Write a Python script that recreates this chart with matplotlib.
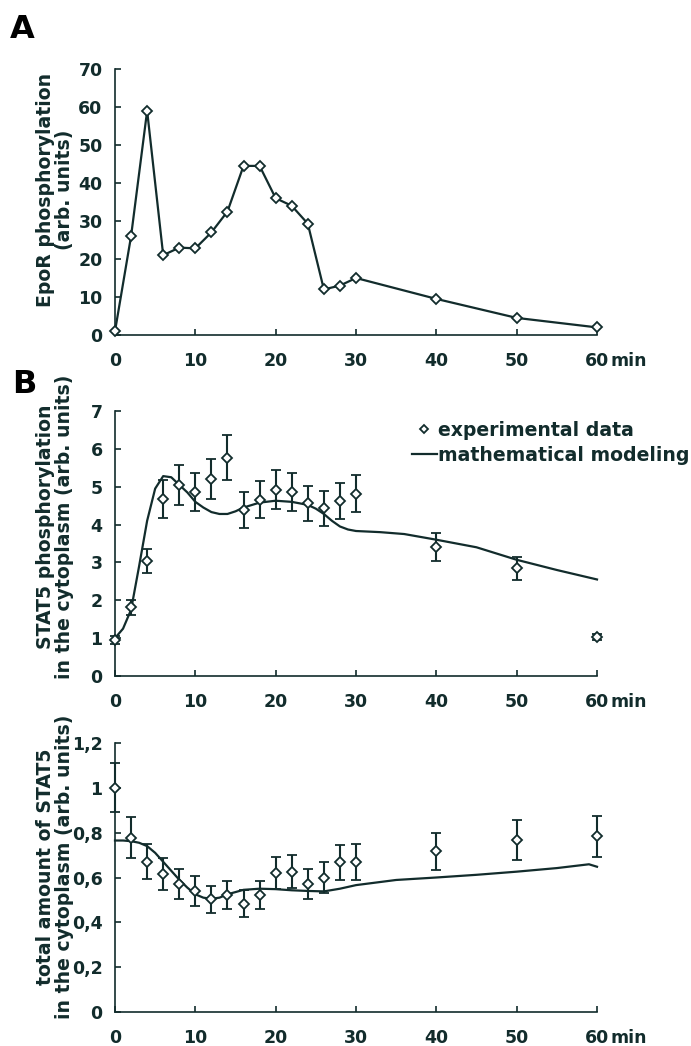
import matplotlib
matplotlib.use("Agg")
import matplotlib.pyplot as plt
from matplotlib.lines import Line2D

# ---------------- data ----------------
time_A = [0, 2, 4, 6, 8, 10, 12, 14, 16, 18, 20, 22, 24, 26, 28, 30, 40, 50, 60]
epor = [1, 26, 59, 21, 23, 22.8, 27, 32.5, 44.5, 44.5, 36, 34, 29.3, 12, 13, 15, 9.5, 4.5, 2]

time_B = [0, 2, 4, 6, 8, 10, 12, 14, 16, 18, 20, 22, 24, 26, 28, 30, 40, 50, 60]
stat5p = [0.95, 1.82, 3.04, 4.68, 5.05, 4.86, 5.2, 5.77, 4.38, 4.66, 4.92, 4.87, 4.56, 4.43, 4.63, 4.82, 3.42, 2.84, 1.04]
stat5p_err = [0.1, 0.2, 0.32, 0.5, 0.53, 0.5, 0.53, 0.6, 0.47, 0.49, 0.52, 0.5, 0.47, 0.46, 0.48, 0.5, 0.37, 0.3, 0.08]

model_t1 = [0, 1, 2, 3, 4, 5, 6, 7, 8, 9, 10, 11, 12, 13, 14, 15, 16, 18, 20, 22, 24,
            25, 26, 27, 28, 29, 30, 33, 36, 40, 45, 50, 55, 60]
model_p = [1.0, 1.25, 1.75, 2.9, 4.1, 4.95, 5.28, 5.25, 5.05, 4.85, 4.6, 4.45, 4.33, 4.28,
           4.28, 4.35, 4.45, 4.58, 4.63, 4.6, 4.52, 4.42, 4.28, 4.1, 3.95, 3.87, 3.83,
           3.8, 3.75, 3.6, 3.4, 3.07, 2.8, 2.55]

stat5t = [1.0, 0.778, 0.67, 0.616, 0.572, 0.54, 0.502, 0.523, 0.483, 0.522, 0.62, 0.626,
          0.57, 0.6, 0.668, 0.67, 0.716, 0.768, 0.783]
stat5t_err = [0.11, 0.09, 0.078, 0.072, 0.068, 0.066, 0.06, 0.063, 0.06, 0.064, 0.07, 0.074,
              0.066, 0.069, 0.078, 0.08, 0.082, 0.088, 0.09]

model_t2 = [0, 1, 2, 3, 4, 5, 6, 7, 8, 9, 10, 11, 12, 13, 14, 16, 18, 20, 22, 24, 26, 28,
            30, 35, 40, 45, 50, 55, 59, 60]
model_tot = [0.765, 0.765, 0.762, 0.755, 0.74, 0.71, 0.67, 0.63, 0.59, 0.555, 0.525, 0.51,
             0.505, 0.51, 0.525, 0.545, 0.55, 0.548, 0.543, 0.54, 0.538, 0.55, 0.566,
             0.589, 0.6, 0.612, 0.626, 0.642, 0.659, 0.648]

xticks = [0, 10, 20, 30, 40, 50, 60]
yticks_A = [0, 10, 20, 30, 40, 50, 60, 70]
yticks_B = [0, 1, 2, 3, 4, 5, 6, 7]
yticks_C = [0, 0.2, 0.4, 0.6, 0.8, 1.0, 1.2]
yticklabels_C = ["0", "0,2", "0,4", "0,6", "0,8", "1", "1,2"]

# ---------------- style ----------------
C = "#122c2c"
plt.rcParams["font.family"] = ["DejaVu Sans"]
plt.rcParams["font.weight"] = "bold"
TICK_FS = 12.5
LAB_FS = 13.6

fig = plt.figure(figsize=(6.91, 10.46), dpi=100)
W, H = 691.0, 1046.0


def make_ax(x0, x1, y0_px, ytop_px):
    return fig.add_axes([x0 / W, 1 - y0_px / H, (x1 - x0) / W, (y0_px - ytop_px) / H])


def style(ax, yt, ytl, ylim, label, label_y):
    ax.set_xlim(0, 60)
    ax.set_ylim(*ylim)
    for s in ("top", "right"):
        ax.spines[s].set_visible(False)
    for s in ("left", "bottom"):
        ax.spines[s].set_color(C)
        ax.spines[s].set_linewidth(1.2)
    ax.set_xticks(xticks)
    ax.set_xticklabels([str(t) for t in xticks], fontsize=TICK_FS, fontweight="bold", color=C)
    ax.set_yticks(yt)
    ax.set_yticklabels(ytl, fontsize=TICK_FS, fontweight="bold", color=C)
    ax.tick_params(axis="both", direction="in", length=4, width=1.2, color=C)
    ax.tick_params(axis="x", pad=12)
    ax.tick_params(axis="y", pad=9)
    ax.set_ylabel(label, fontsize=LAB_FS, fontweight="bold", color=C, linespacing=0.95)
    ax.yaxis.set_label_coords(-0.086, label_y)
    ax.annotate("min", xy=(60, 0), xycoords=("data", "axes fraction"),
                xytext=(13, -17), textcoords="offset pixels", ha="left", va="top",
                fontsize=TICK_FS, fontweight="bold", color=C, annotation_clip=False)


# Panel A
axA = make_ax(115, 597, 335, 69)
axA.plot(time_A, epor, color=C, lw=1.6, marker="D", ms=5, mfc="white", mec=C, mew=1.3,
         clip_on=False, zorder=3)
style(axA, yticks_A, [str(v) for v in yticks_A], (0, 70),
      "EpoR phosphorylation\n(arb. units)", 0.545)

# Panel B (phosphorylated STAT5)
axB = make_ax(115, 597, 676, 411)
axB.plot(model_t1, model_p, color=C, lw=1.6, zorder=2, clip_on=False)
axB.errorbar(time_B, stat5p, yerr=stat5p_err, fmt="D", ms=5, mfc="white", mec=C, mew=1.3,
             ecolor=C, elinewidth=1.5, capsize=3.5, capthick=1.5, zorder=3, clip_on=False)
style(axB, yticks_B, [str(v) for v in yticks_B], (0, 7),
      "STAT5 phosphorylation\nin the cytoplasm (arb. units)", 0.562)
handles = [Line2D([], [], ls="none", marker="D", ms=4, mfc="white", mec=C, mew=1.3),
           Line2D([], [], color=C, lw=1.6)]
axB.legend(handles, ["experimental data", "mathematical modeling"],
           loc="upper left", bbox_to_anchor=(412 / W, 1 - 421 / H), bbox_transform=fig.transFigure,
           frameon=False, handlelength=1.3, handletextpad=0.1, borderaxespad=0, borderpad=0,
           labelspacing=0.32, prop={"size": 13.6, "weight": "bold"}, labelcolor=C)

# Panel B (total STAT5)
axC = make_ax(115, 597, 1012, 743)
axC.plot(model_t2, model_tot, color=C, lw=1.6, zorder=2, clip_on=False)
axC.errorbar(time_B, stat5t, yerr=stat5t_err, fmt="D", ms=5, mfc="white", mec=C, mew=1.3,
             ecolor=C, elinewidth=1.5, capsize=3.5, capthick=1.5, zorder=3, clip_on=False)
style(axC, yticks_C, yticklabels_C, (0, 1.2),
      "total amount of STAT5\nin the cytoplasm (arb. units)", 0.539)

fig.text(10 / W, 1 - 38 / H, "A", fontsize=23, fontweight="bold", color="black")
fig.text(12 / W, 1 - 393 / H, "B", fontsize=23, fontweight="bold", color="black")

fig.savefig("out.png", dpi=100)
